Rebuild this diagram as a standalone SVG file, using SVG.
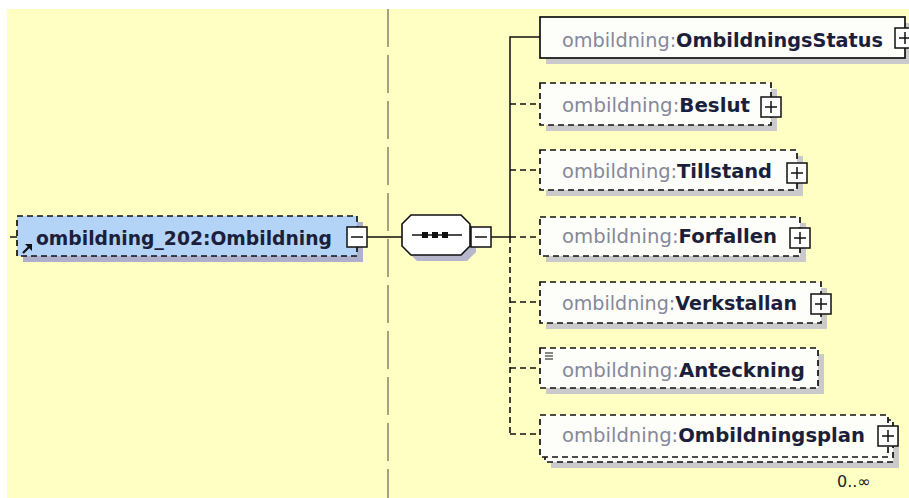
<svg xmlns="http://www.w3.org/2000/svg" width="909" height="498" viewBox="0 0 909 498">
<defs>
<style>
.t{font-family:"DejaVu Sans",Verdana,sans-serif;font-size:19px}
.pre{fill:#85889a}
.nm{fill:#1c1f3c;font-weight:bold}
.box{fill:#fdfdfa;stroke:#111;stroke-width:1.7}
.opt{stroke-dasharray:6 4}
.sh{fill:#cacacc}
.pm{fill:#fff;stroke:#111;stroke-width:1.5}
.ln{stroke:#111;stroke-width:1.5;fill:none}
.dl{stroke:#111;stroke-width:1.6;fill:none;stroke-dasharray:6 4}
</style>
<g id="plus">
<rect class="pm" x="-10" y="-10" width="20" height="20"/>
<path class="ln" d="M-6 0H6M0 -6V6"/>
</g>
<g id="minus">
<rect class="pm" x="-10" y="-10" width="20" height="20"/>
<path class="ln" d="M-6 0H6"/>
</g>
</defs>
<rect width="909" height="498" fill="#fff"/>
<rect x="7" y="9" width="902" height="489" fill="#ffffc4"/>
<line x1="388" y1="9" x2="388" y2="498" stroke="#8c8468" stroke-width="1.5" stroke-dasharray="38 8"/>

<g id="connectors">
<line class="ln" x1="10" y1="237" x2="17" y2="237"/>
<line class="ln" x1="367" y1="237" x2="402" y2="237"/>
<line class="ln" x1="491" y1="237" x2="510" y2="237"/>
<path class="ln" d="M540 37H510V237"/>
<line class="dl" x1="510" y1="237" x2="510" y2="434"/>
<line class="dl" x1="510" y1="104" x2="540" y2="104"/>
<line class="dl" x1="510" y1="170" x2="540" y2="170"/>
<line class="dl" x1="510" y1="237" x2="540" y2="237"/>
<line class="dl" x1="510" y1="302" x2="540" y2="302"/>
<line class="dl" x1="510" y1="368" x2="540" y2="368"/>
<line class="dl" x1="510" y1="434" x2="540" y2="434"/>
</g>

<g id="node-main">
<rect x="23" y="222" width="340" height="40" fill="#aeb0cc"/>
<rect x="17" y="216" width="340" height="40" fill="#b3d3f7" stroke="#111" stroke-width="1.7" stroke-dasharray="6 4"/>
<path d="M23 253L30 246" stroke="#111" stroke-width="2.2"/>
<polygon points="32,244 32,251 25,244" fill="#111"/>
<text class="t nm" x="36" y="245" textLength="296" lengthAdjust="spacingAndGlyphs">ombildning_202:Ombildning</text>
<use href="#minus" x="357" y="237"/>
</g>

<g id="sequence">
<polygon points="417,221 467,221 476,230 476,252 467,261 417,261 408,252 408,230" fill="#b6b6cc"/>
<polygon points="411,215 461,215 470,224 470,246 461,255 411,255 402,246 402,224" fill="#fff" stroke="#111" stroke-width="1.6"/>
<line class="ln" x1="412" y1="235" x2="462" y2="235"/>
<rect x="422" y="232" width="6" height="6" fill="#111"/>
<rect x="432" y="232" width="6" height="6" fill="#111"/>
<rect x="442" y="232" width="6" height="6" fill="#111"/>
<use href="#minus" x="481" y="237"/>
</g>

<g id="node-status">
<rect class="sh" x="546" y="23" width="365" height="41"/>
<rect class="box" x="540" y="17" width="365" height="41"/>
<text class="t" x="562" y="47" textLength="321" lengthAdjust="spacingAndGlyphs"><tspan class="pre">ombildning:</tspan><tspan class="nm">OmbildningsStatus</tspan></text>
<use href="#plus" x="905" y="38"/>
</g>

<g id="node-beslut">
<rect class="sh" x="546" y="89" width="231" height="42"/>
<rect class="box opt" x="540" y="83" width="231" height="42"/>
<text class="t" x="562" y="112" textLength="188" lengthAdjust="spacingAndGlyphs"><tspan class="pre">ombildning:</tspan><tspan class="nm">Beslut</tspan></text>
<use href="#plus" x="771" y="107"/>
</g>

<g id="node-tillstand">
<rect class="sh" x="546" y="156" width="257" height="40"/>
<rect class="box opt" x="540" y="150" width="257" height="40"/>
<text class="t" x="562" y="178" textLength="210" lengthAdjust="spacingAndGlyphs"><tspan class="pre">ombildning:</tspan><tspan class="nm">Tillstand</tspan></text>
<use href="#plus" x="797" y="173"/>
</g>

<g id="node-forfallen">
<rect class="sh" x="546" y="223" width="260" height="39"/>
<rect class="box opt" x="540" y="217" width="260" height="39"/>
<text class="t" x="562" y="243" textLength="215" lengthAdjust="spacingAndGlyphs"><tspan class="pre">ombildning:</tspan><tspan class="nm">Forfallen</tspan></text>
<use href="#plus" x="800" y="238"/>
</g>

<g id="node-verkstallan">
<rect class="sh" x="546" y="288" width="281" height="41"/>
<rect class="box opt" x="540" y="282" width="281" height="41"/>
<text class="t" x="562" y="310" textLength="235" lengthAdjust="spacingAndGlyphs"><tspan class="pre">ombildning:</tspan><tspan class="nm">Verkstallan</tspan></text>
<use href="#plus" x="821" y="304"/>
</g>

<g id="node-anteckning">
<rect class="sh" x="546" y="354" width="278" height="40"/>
<rect class="box opt" x="540" y="348" width="278" height="40"/>
<path d="M545 353H553M545 356H553M545 359H553" stroke="#111" stroke-width="1.2"/>
<text class="t" x="562" y="377" textLength="243" lengthAdjust="spacingAndGlyphs"><tspan class="pre">ombildning:</tspan><tspan class="nm">Anteckning</tspan></text>
</g>

<g id="node-ombildningsplan">
<rect class="sh" x="551" y="426" width="348" height="42"/>
<rect class="box opt" x="545" y="420" width="348" height="42"/>
<rect class="box opt" x="540" y="415" width="348" height="42"/>
<text class="t" x="562" y="442" textLength="303" lengthAdjust="spacingAndGlyphs"><tspan class="pre">ombildning:</tspan><tspan class="nm">Ombildningsplan</tspan></text>
<use href="#plus" x="888" y="436"/>
<text x="837" y="487" font-family="DejaVu Sans,Verdana,sans-serif" font-size="16" fill="#222">0..∞</text>
</g>
</svg>
